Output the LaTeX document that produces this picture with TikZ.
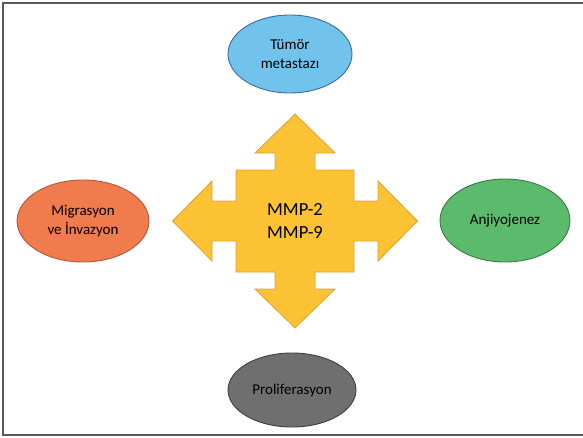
\documentclass[tikz,border=0pt]{standalone}
\usepackage{fontspec}
\setmainfont{Carlito}
\usepackage{tikz}
\usetikzlibrary{shapes.geometric}
\definecolor{bluefill}{HTML}{72C3EC}
\definecolor{blueline}{HTML}{3A6A9E}
\definecolor{orangefill}{HTML}{F07B4D}
\definecolor{orangeline}{HTML}{B0583A}
\definecolor{greenfill}{HTML}{5BBA6B}
\definecolor{greenline}{HTML}{3B7A46}
\definecolor{grayfill}{HTML}{6F6F70}
\definecolor{grayline}{HTML}{3E3E40}
\definecolor{yellowfill}{HTML}{FBC233}
\definecolor{yellowline}{HTML}{DDA238}
\tikzset{
  effect/.style={
    shape = ellipse,
    draw,
    line width = 0.9pt,
    inner sep = 0pt,
    align = center,
    font = \fontsize{15}{19}\selectfont
  },
  crossarrow/.style={
    fill = yellowfill,
    draw = yellowline,
    line width = 0.8pt,
    line join = miter
  },
  frame/.style={
    draw = black!65,
    line width = 2pt
  }
}
\begin{document}
\begin{tikzpicture}[x=1pt,y=-1pt]
    \useasboundingbox (0,0) rectangle (583,437);
    \draw[frame] (583,3) -- (3,3) -- (3,435) -- (583,435);
    % central cross
    \def\stemw{20}
    \def\headw{40}
    \def\sqx{59}
    \def\sqy{51}
    \def\vbase{68}
    \def\vtip{107}
    \def\hbase{83}
    \def\htip{122.5}
    \begin{scope}[shift={(295,221)}]
    \draw[crossarrow] (0,-\vtip) -- (\headw,-\vbase) -- (\stemw,-\vbase) -- (\stemw,-\sqy) -- (\sqx,-\sqy)
      -- (\sqx,-\stemw) -- (\hbase,-\stemw) -- (\hbase,-\headw) -- (\htip,0) -- (\hbase,\headw) -- (\hbase,\stemw)
      -- (\sqx,\stemw) -- (\sqx,\sqy) -- (\stemw,\sqy) -- (\stemw,\vbase) -- (\headw,\vbase) -- (0,\vtip)
      -- (-\headw,\vbase) -- (-\stemw,\vbase) -- (-\stemw,\sqy) -- (-\sqx,\sqy) -- (-\sqx,\stemw)
      -- (-\hbase,\stemw) -- (-\hbase,\headw) -- (-\htip,0) -- (-\hbase,-\headw) -- (-\hbase,-\stemw)
      -- (-\sqx,-\stemw) -- (-\sqx,-\sqy) -- (-\stemw,-\sqy) -- (-\stemw,-\vbase) -- (-\headw,-\vbase) -- cycle;
    \node[align=center, font=\fontsize{18.5}{23}\selectfont] (mmp) at (0,0) {MMP-2\\MMP-9};
    \end{scope}
    % effects
    \node[effect, fill=bluefill, draw=blueline, minimum width=124pt, minimum height=78pt]
      (metastaz) at (290,54) {Tümör\\metastazı};
    \node[effect, fill=orangefill, draw=orangeline, minimum width=132pt, minimum height=82pt]
      (migrasyon) at (83,221) {Migrasyon\\ve İnvazyon};
    \node[effect, fill=greenfill, draw=greenline, minimum width=130pt, minimum height=83pt]
      (anjiyo) at (505,220.5) {Anjiyojenez};
    \node[effect, fill=grayfill, draw=grayline, minimum width=128pt, minimum height=74pt]
      (prolif) at (292,390) {Proliferasyon};
\end{tikzpicture}
\end{document}
